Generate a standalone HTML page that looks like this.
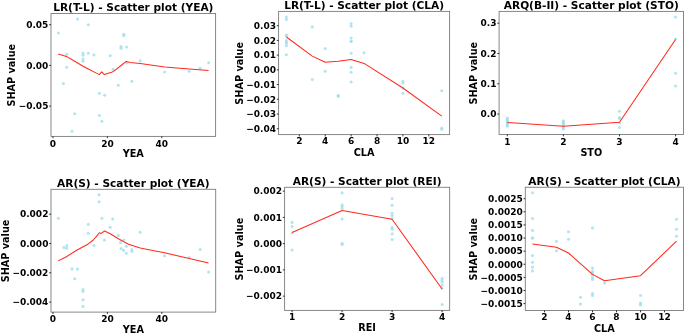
<!DOCTYPE html>
<html lang="en"><head><meta charset="utf-8"><title>SHAP scatter plots</title>
<style>
html,body{margin:0;padding:0;background:#fff;}
body{width:685px;height:334px;overflow:hidden;}
svg{display:block;}
svg text{font-family:"DejaVu Sans", "Liberation Sans", sans-serif;font-weight:bold;fill:#000;}
.t{font-size:10.58px;}
.l{font-size:9.7px;}
.k{font-size:9.0px;}
</style></head>
<body>
<svg width="685" height="334" viewBox="0 0 685 334">
<rect x="0" y="0" width="685" height="334" fill="#fff"/>
<g>
<g fill="#a0deee" fill-opacity="0.8"><circle cx="58.4" cy="33" r="1.55"/><circle cx="77.5" cy="19.1" r="1.55"/><circle cx="88.3" cy="24.7" r="1.55"/><circle cx="66.7" cy="54.4" r="1.55"/><circle cx="83" cy="53.1" r="1.55"/><circle cx="83" cy="55.2" r="1.55"/><circle cx="83" cy="59.1" r="1.55"/><circle cx="83" cy="61.2" r="1.55"/><circle cx="88.3" cy="53.3" r="1.55"/><circle cx="93.9" cy="54.9" r="1.55"/><circle cx="110.2" cy="55.6" r="1.55"/><circle cx="66.7" cy="67.2" r="1.55"/><circle cx="113.2" cy="69.2" r="1.55"/><circle cx="63.4" cy="83.5" r="1.55"/><circle cx="123.8" cy="34.2" r="1.55"/><circle cx="123.8" cy="35.7" r="1.55"/><circle cx="121" cy="46.6" r="1.55"/><circle cx="121" cy="48.3" r="1.55"/><circle cx="126.6" cy="47.1" r="1.55"/><circle cx="140.2" cy="60.9" r="1.55"/><circle cx="126.6" cy="62.9" r="1.55"/><circle cx="164.6" cy="72" r="1.55"/><circle cx="189.2" cy="71.2" r="1.55"/><circle cx="200.1" cy="68.4" r="1.55"/><circle cx="208.6" cy="62.7" r="1.55"/><circle cx="131.9" cy="81.3" r="1.55"/><circle cx="99.4" cy="93.3" r="1.55"/><circle cx="104.7" cy="95.3" r="1.55"/><circle cx="74.7" cy="113.7" r="1.55"/><circle cx="99.4" cy="115.5" r="1.55"/><circle cx="101.9" cy="121.2" r="1.55"/><circle cx="72" cy="131.3" r="1.55"/><circle cx="118.3" cy="85.3" r="1.55"/></g>
<polyline fill="none" stroke="#ff2a1e" stroke-width="1.05" stroke-linejoin="round" points="58.2,54 66.4,56.4 74.7,61.2 83.1,66.3 88.3,69 93.9,71.9 99.3,74.6 101.7,71.9 104.3,74.6 112.4,71.9 115,70.3 121,65.5 126.2,61.4 130,62.4 140.2,63.6 164.7,66.9 189.3,68.9 208.6,70.4"/>
<rect x="51" y="13.5" width="164.6" height="122.9" fill="none" stroke="#000" stroke-opacity="0.52" stroke-width="0.9"/>
<path d="M51 24.7h-1.8M51 65.4h-1.8M51 106.1h-1.8M53 136.4v1.8M107.4 136.4v1.8M161.8 136.4v1.8" stroke="#000" stroke-opacity="1" stroke-width="0.8" fill="none"/>
<text class="k" text-anchor="end" x="48.4" y="27.98">0.05</text><text class="k" text-anchor="end" x="48.4" y="68.68">0.00</text><text class="k" text-anchor="end" x="48.4" y="109.38">−0.05</text>
<text class="k" text-anchor="middle" x="53" y="146.88">0</text><text class="k" text-anchor="middle" x="107.4" y="146.88">20</text><text class="k" text-anchor="middle" x="161.8" y="146.88">40</text>
<text class="t" text-anchor="middle" x="133.3" y="11.1">LR(T-L) - Scatter plot (YEA)</text>
<text class="l" text-anchor="middle" x="133.3" y="157.2">YEA</text>
<text class="l" text-anchor="middle" transform="translate(15 75.25) rotate(-90)">SHAP value</text>
</g>
<g>
<g fill="#a0deee" fill-opacity="0.8"><circle cx="286.37" cy="17.1" r="1.55"/><circle cx="286.37" cy="19.4" r="1.55"/><circle cx="286.37" cy="35" r="1.55"/><circle cx="286.37" cy="35.7" r="1.55"/><circle cx="286.37" cy="40.6" r="1.55"/><circle cx="286.37" cy="42.1" r="1.55"/><circle cx="286.37" cy="43.4" r="1.55"/><circle cx="286.37" cy="45.7" r="1.55"/><circle cx="286.37" cy="54.7" r="1.55"/><circle cx="312.27" cy="26.9" r="1.55"/><circle cx="312.27" cy="79.5" r="1.55"/><circle cx="325.22" cy="48.6" r="1.55"/><circle cx="325.22" cy="71.2" r="1.55"/><circle cx="351.12" cy="23.6" r="1.55"/><circle cx="351.12" cy="26.2" r="1.55"/><circle cx="351.12" cy="38" r="1.55"/><circle cx="351.12" cy="41.1" r="1.55"/><circle cx="351.12" cy="41.5" r="1.55"/><circle cx="351.12" cy="53.3" r="1.55"/><circle cx="351.12" cy="67.4" r="1.55"/><circle cx="351.12" cy="72.2" r="1.55"/><circle cx="351.12" cy="82" r="1.55"/><circle cx="364.07" cy="52.8" r="1.55"/><circle cx="402.92" cy="81.2" r="1.55"/><circle cx="402.92" cy="83" r="1.55"/><circle cx="402.92" cy="88" r="1.55"/><circle cx="402.92" cy="93.2" r="1.55"/><circle cx="338.17" cy="95.3" r="1.55"/><circle cx="338.17" cy="96.5" r="1.55"/><circle cx="441.77" cy="90.8" r="1.55"/><circle cx="441.77" cy="128" r="1.55"/><circle cx="441.77" cy="129.3" r="1.55"/></g>
<polyline fill="none" stroke="#ff2a1e" stroke-width="1.05" stroke-linejoin="round" points="286.37,37 312.27,56.1 325.22,62.2 338.17,61.2 351.12,59.4 364.07,63.4 402.92,88 441.77,116.2"/>
<rect x="278.6" y="11.4" width="171" height="123.2" fill="none" stroke="#000" stroke-opacity="0.52" stroke-width="0.9"/>
<path d="M278.6 25.7h-1.8M278.6 40.42h-1.8M278.6 55.14h-1.8M278.6 69.86h-1.8M278.6 84.58h-1.8M278.6 99.3h-1.8M278.6 114.02h-1.8M278.6 128.74h-1.8M299.32 134.6v1.8M325.22 134.6v1.8M351.12 134.6v1.8M377.02 134.6v1.8M402.92 134.6v1.8M428.82 134.6v1.8" stroke="#000" stroke-opacity="1" stroke-width="0.8" fill="none"/>
<text class="k" text-anchor="end" x="276" y="28.98">0.03</text><text class="k" text-anchor="end" x="276" y="43.7">0.02</text><text class="k" text-anchor="end" x="276" y="58.42">0.01</text><text class="k" text-anchor="end" x="276" y="73.14">0.00</text><text class="k" text-anchor="end" x="276" y="87.86">−0.01</text><text class="k" text-anchor="end" x="276" y="102.58">−0.02</text><text class="k" text-anchor="end" x="276" y="117.3">−0.03</text><text class="k" text-anchor="end" x="276" y="132.02">−0.04</text>
<text class="k" text-anchor="middle" x="299.32" y="144.18">2</text><text class="k" text-anchor="middle" x="325.22" y="144.18">4</text><text class="k" text-anchor="middle" x="351.12" y="144.18">6</text><text class="k" text-anchor="middle" x="377.02" y="144.18">8</text><text class="k" text-anchor="middle" x="402.92" y="144.18">10</text><text class="k" text-anchor="middle" x="428.82" y="144.18">12</text>
<text class="t" text-anchor="middle" x="364.1" y="8.8">LR(T-L) - Scatter plot (CLA)</text>
<text class="l" text-anchor="middle" x="364.1" y="155.9">CLA</text>
<text class="l" text-anchor="middle" transform="translate(243 73.3) rotate(-90)">SHAP value</text>
</g>
<g>
<g fill="#a0deee" fill-opacity="0.8"><circle cx="507.3" cy="118.1" r="1.55"/><circle cx="507.3" cy="119" r="1.55"/><circle cx="507.3" cy="120" r="1.55"/><circle cx="507.3" cy="121" r="1.55"/><circle cx="507.3" cy="122" r="1.55"/><circle cx="507.3" cy="123" r="1.55"/><circle cx="507.3" cy="124" r="1.55"/><circle cx="507.3" cy="125" r="1.55"/><circle cx="507.3" cy="126.2" r="1.55"/><circle cx="563.39" cy="120.7" r="1.55"/><circle cx="563.39" cy="121.7" r="1.55"/><circle cx="563.39" cy="122.7" r="1.55"/><circle cx="563.39" cy="123.7" r="1.55"/><circle cx="563.39" cy="124.7" r="1.55"/><circle cx="563.39" cy="125.7" r="1.55"/><circle cx="563.39" cy="126.7" r="1.55"/><circle cx="563.39" cy="127.7" r="1.55"/><circle cx="563.39" cy="129" r="1.55"/><circle cx="619.48" cy="111.2" r="1.55"/><circle cx="619.48" cy="117.5" r="1.55"/><circle cx="619.48" cy="118.5" r="1.55"/><circle cx="619.48" cy="123" r="1.55"/><circle cx="619.48" cy="127.5" r="1.55"/><circle cx="675.57" cy="17.1" r="1.55"/><circle cx="675.57" cy="39" r="1.55"/><circle cx="675.57" cy="73.2" r="1.55"/><circle cx="675.57" cy="86" r="1.55"/></g>
<polyline fill="none" stroke="#ff2a1e" stroke-width="1.05" stroke-linejoin="round" points="507.3,122.5 563.39,126.3 619.48,122.2 675.57,39.5"/>
<rect x="499.1" y="11.4" width="184.4" height="123.1" fill="none" stroke="#000" stroke-opacity="0.52" stroke-width="0.9"/>
<path d="M499.1 23.2h-1.8M499.1 53.5h-1.8M499.1 83.8h-1.8M499.1 114.1h-1.8M507.3 134.5v1.8M563.39 134.5v1.8M619.48 134.5v1.8M675.57 134.5v1.8" stroke="#000" stroke-opacity="1" stroke-width="0.8" fill="none"/>
<text class="k" text-anchor="end" x="496.5" y="26.48">0.3</text><text class="k" text-anchor="end" x="496.5" y="56.78">0.2</text><text class="k" text-anchor="end" x="496.5" y="87.08">0.1</text><text class="k" text-anchor="end" x="496.5" y="117.38">0.0</text>
<text class="k" text-anchor="middle" x="507.3" y="144.53">1</text><text class="k" text-anchor="middle" x="563.39" y="144.53">2</text><text class="k" text-anchor="middle" x="619.48" y="144.53">3</text><text class="k" text-anchor="middle" x="675.57" y="144.53">4</text>
<text class="t" text-anchor="middle" x="591.3" y="9">ARQ(B-II) - Scatter plot (STO)</text>
<text class="l" text-anchor="middle" x="591.3" y="155.75">STO</text>
<text class="l" text-anchor="middle" transform="translate(476.5 73.25) rotate(-90)">SHAP value</text>
</g>
<g>
<g fill="#a0deee" fill-opacity="0.8"><circle cx="58.4" cy="218.3" r="1.55"/><circle cx="99.1" cy="194.7" r="1.55"/><circle cx="99.1" cy="201.7" r="1.55"/><circle cx="101.9" cy="218.3" r="1.55"/><circle cx="112.7" cy="219.1" r="1.55"/><circle cx="88.3" cy="224.4" r="1.55"/><circle cx="88.3" cy="233.2" r="1.55"/><circle cx="110.2" cy="227.4" r="1.55"/><circle cx="104.4" cy="240" r="1.55"/><circle cx="93.9" cy="245.5" r="1.55"/><circle cx="66.7" cy="245.5" r="1.55"/><circle cx="63.9" cy="247.5" r="1.55"/><circle cx="66.7" cy="248.3" r="1.55"/><circle cx="140.2" cy="232.2" r="1.55"/><circle cx="118.3" cy="235.4" r="1.55"/><circle cx="123.8" cy="240" r="1.55"/><circle cx="120.5" cy="242.5" r="1.55"/><circle cx="126.3" cy="246.3" r="1.55"/><circle cx="121.1" cy="248.6" r="1.55"/><circle cx="131.9" cy="249.5" r="1.55"/><circle cx="200.1" cy="249.5" r="1.55"/><circle cx="72" cy="268.9" r="1.55"/><circle cx="77.5" cy="269.1" r="1.55"/><circle cx="74.7" cy="278.7" r="1.55"/><circle cx="83" cy="289.5" r="1.55"/><circle cx="83" cy="291.5" r="1.55"/><circle cx="83" cy="299.8" r="1.55"/><circle cx="83" cy="306.4" r="1.55"/><circle cx="123.6" cy="250.4" r="1.55"/><circle cx="126.3" cy="253.3" r="1.55"/><circle cx="131.9" cy="251.5" r="1.55"/><circle cx="164.6" cy="255.8" r="1.55"/><circle cx="189.2" cy="257.5" r="1.55"/><circle cx="208.6" cy="272.1" r="1.55"/></g>
<polyline fill="none" stroke="#ff2a1e" stroke-width="1.05" stroke-linejoin="round" points="58.2,260.9 66.4,256.7 75.9,250.7 83.1,246.8 87.9,244.2 93.3,240 96.5,236.4 99.3,232.8 101.1,233.4 104.7,231 110.7,234 118.4,238.8 123.8,241.8 128.6,244.2 134,246 140.2,248 155.3,251 164.6,252.8 189.2,258.5 208.6,262.9"/>
<rect x="51" y="189.3" width="164.7" height="122.8" fill="none" stroke="#000" stroke-opacity="0.52" stroke-width="0.9"/>
<path d="M51 214.2h-1.8M51 243.5h-1.8M51 272.8h-1.8M51 302.1h-1.8M53 312.1v1.8M107.4 312.1v1.8M161.8 312.1v1.8" stroke="#000" stroke-opacity="1" stroke-width="0.8" fill="none"/>
<text class="k" text-anchor="end" x="48.4" y="217.48">0.002</text><text class="k" text-anchor="end" x="48.4" y="246.78">0.000</text><text class="k" text-anchor="end" x="48.4" y="276.08">−0.002</text><text class="k" text-anchor="end" x="48.4" y="305.38">−0.004</text>
<text class="k" text-anchor="middle" x="53" y="322.18">0</text><text class="k" text-anchor="middle" x="107.4" y="322.18">20</text><text class="k" text-anchor="middle" x="161.8" y="322.18">40</text>
<text class="t" text-anchor="middle" x="133.35" y="186.6">AR(S) - Scatter plot (YEA)</text>
<text class="l" text-anchor="middle" x="133.35" y="333.1">YEA</text>
<text class="l" text-anchor="middle" transform="translate(9.1 251) rotate(-90)">SHAP value</text>
</g>
<g>
<g fill="#a0deee" fill-opacity="0.8"><circle cx="292.1" cy="222.4" r="1.55"/><circle cx="292.1" cy="226.6" r="1.55"/><circle cx="292.1" cy="232.9" r="1.55"/><circle cx="292.1" cy="250" r="1.55"/><circle cx="342.1" cy="192.9" r="1.55"/><circle cx="342.1" cy="204.7" r="1.55"/><circle cx="342.1" cy="206.5" r="1.55"/><circle cx="342.1" cy="208.5" r="1.55"/><circle cx="342.1" cy="219.1" r="1.55"/><circle cx="342.1" cy="243.2" r="1.55"/><circle cx="342.1" cy="244.5" r="1.55"/><circle cx="392.1" cy="198.5" r="1.55"/><circle cx="392.1" cy="205.2" r="1.55"/><circle cx="392.1" cy="213" r="1.55"/><circle cx="392.1" cy="215.6" r="1.55"/><circle cx="392.1" cy="218.6" r="1.55"/><circle cx="392.1" cy="227.4" r="1.55"/><circle cx="392.1" cy="229.2" r="1.55"/><circle cx="392.1" cy="233.7" r="1.55"/><circle cx="392.1" cy="239.5" r="1.55"/><circle cx="442.1" cy="278.4" r="1.55"/><circle cx="442.1" cy="280.2" r="1.55"/><circle cx="442.1" cy="282.2" r="1.55"/><circle cx="442.1" cy="285.2" r="1.55"/><circle cx="442.1" cy="288.2" r="1.55"/><circle cx="442.1" cy="304.6" r="1.55"/></g>
<polyline fill="none" stroke="#ff2a1e" stroke-width="1.05" stroke-linejoin="round" points="292.1,232.4 342.1,210.5 392.1,219.3 442.1,289"/>
<rect x="284.6" y="187.3" width="165.05" height="123.1" fill="none" stroke="#000" stroke-opacity="0.52" stroke-width="0.9"/>
<path d="M284.6 191.15h-1.8M284.6 217.4h-1.8M284.6 243.65h-1.8M284.6 269.9h-1.8M284.6 296.15h-1.8M292.1 310.4v1.8M342.1 310.4v1.8M392.1 310.4v1.8M442.1 310.4v1.8" stroke="#000" stroke-opacity="1" stroke-width="0.8" fill="none"/>
<text class="k" text-anchor="end" x="282" y="194.43">0.002</text><text class="k" text-anchor="end" x="282" y="220.68">0.001</text><text class="k" text-anchor="end" x="282" y="246.93">0.000</text><text class="k" text-anchor="end" x="282" y="273.18">−0.001</text><text class="k" text-anchor="end" x="282" y="299.43">−0.002</text>
<text class="k" text-anchor="middle" x="292.1" y="320.28">1</text><text class="k" text-anchor="middle" x="342.1" y="320.28">2</text><text class="k" text-anchor="middle" x="392.1" y="320.28">3</text><text class="k" text-anchor="middle" x="442.1" y="320.28">4</text>
<text class="t" text-anchor="middle" x="367.12" y="184.6">AR(S) - Scatter plot (REI)</text>
<text class="l" text-anchor="middle" x="367.12" y="331.4">REI</text>
<text class="l" text-anchor="middle" transform="translate(243 249.15) rotate(-90)">SHAP value</text>
</g>
<g>
<g fill="#a0deee" fill-opacity="0.8"><circle cx="532.5" cy="192.7" r="1.55"/><circle cx="532.5" cy="218.6" r="1.55"/><circle cx="532.5" cy="230.4" r="1.55"/><circle cx="532.5" cy="237.8" r="1.55"/><circle cx="532.5" cy="238.3" r="1.55"/><circle cx="532.5" cy="255.6" r="1.55"/><circle cx="532.5" cy="262.3" r="1.55"/><circle cx="532.5" cy="267.1" r="1.55"/><circle cx="532.5" cy="270.9" r="1.55"/><circle cx="556.5" cy="241.2" r="1.55"/><circle cx="556.5" cy="250.8" r="1.55"/><circle cx="568.5" cy="231.7" r="1.55"/><circle cx="568.5" cy="239.2" r="1.55"/><circle cx="580.5" cy="297.3" r="1.55"/><circle cx="580.5" cy="304.1" r="1.55"/><circle cx="592.5" cy="227.9" r="1.55"/><circle cx="592.5" cy="268.1" r="1.55"/><circle cx="592.5" cy="271.4" r="1.55"/><circle cx="592.5" cy="273.4" r="1.55"/><circle cx="592.5" cy="275.2" r="1.55"/><circle cx="592.5" cy="277.7" r="1.55"/><circle cx="592.5" cy="279.4" r="1.55"/><circle cx="592.5" cy="293.5" r="1.55"/><circle cx="592.5" cy="295.5" r="1.55"/><circle cx="604.5" cy="283" r="1.55"/><circle cx="640.5" cy="295.5" r="1.55"/><circle cx="640.5" cy="303.1" r="1.55"/><circle cx="640.5" cy="304.9" r="1.55"/><circle cx="676.5" cy="219.3" r="1.55"/><circle cx="676.5" cy="229.2" r="1.55"/><circle cx="676.5" cy="236.2" r="1.55"/></g>
<polyline fill="none" stroke="#ff2a1e" stroke-width="1.05" stroke-linejoin="round" points="532.5,244 556.5,247.3 568.5,253 592.5,274.4 604.5,280.7 640.5,275.7 676.5,241.2"/>
<rect x="525.3" y="187.25" width="158.2" height="123.25" fill="none" stroke="#000" stroke-opacity="0.52" stroke-width="0.9"/>
<path d="M525.3 198.7h-1.8M525.3 211.81h-1.8M525.3 224.92h-1.8M525.3 238.03h-1.8M525.3 251.14h-1.8M525.3 264.25h-1.8M525.3 277.36h-1.8M525.3 290.47h-1.8M525.3 303.58h-1.8M544.5 310.5v1.8M568.5 310.5v1.8M592.5 310.5v1.8M616.5 310.5v1.8M640.5 310.5v1.8M664.5 310.5v1.8" stroke="#000" stroke-opacity="1" stroke-width="0.8" fill="none"/>
<text class="k" text-anchor="end" x="522.7" y="201.98">0.0025</text><text class="k" text-anchor="end" x="522.7" y="215.09">0.0020</text><text class="k" text-anchor="end" x="522.7" y="228.2">0.0015</text><text class="k" text-anchor="end" x="522.7" y="241.31">0.0010</text><text class="k" text-anchor="end" x="522.7" y="254.42">0.0005</text><text class="k" text-anchor="end" x="522.7" y="267.53">0.0000</text><text class="k" text-anchor="end" x="522.7" y="280.64">−0.0005</text><text class="k" text-anchor="end" x="522.7" y="293.75">−0.0010</text><text class="k" text-anchor="end" x="522.7" y="306.86">−0.0015</text>
<text class="k" text-anchor="middle" x="544.5" y="320.28">2</text><text class="k" text-anchor="middle" x="568.5" y="320.28">4</text><text class="k" text-anchor="middle" x="592.5" y="320.28">6</text><text class="k" text-anchor="middle" x="616.5" y="320.28">8</text><text class="k" text-anchor="middle" x="640.5" y="320.28">10</text><text class="k" text-anchor="middle" x="664.5" y="320.28">12</text>
<text class="t" text-anchor="middle" x="604.4" y="184.6">AR(S) - Scatter plot (CLA)</text>
<text class="l" text-anchor="middle" x="604.4" y="331.55">CLA</text>
<text class="l" text-anchor="middle" transform="translate(476.5 249.18) rotate(-90)">SHAP value</text>
</g>
</svg>
</body></html>
